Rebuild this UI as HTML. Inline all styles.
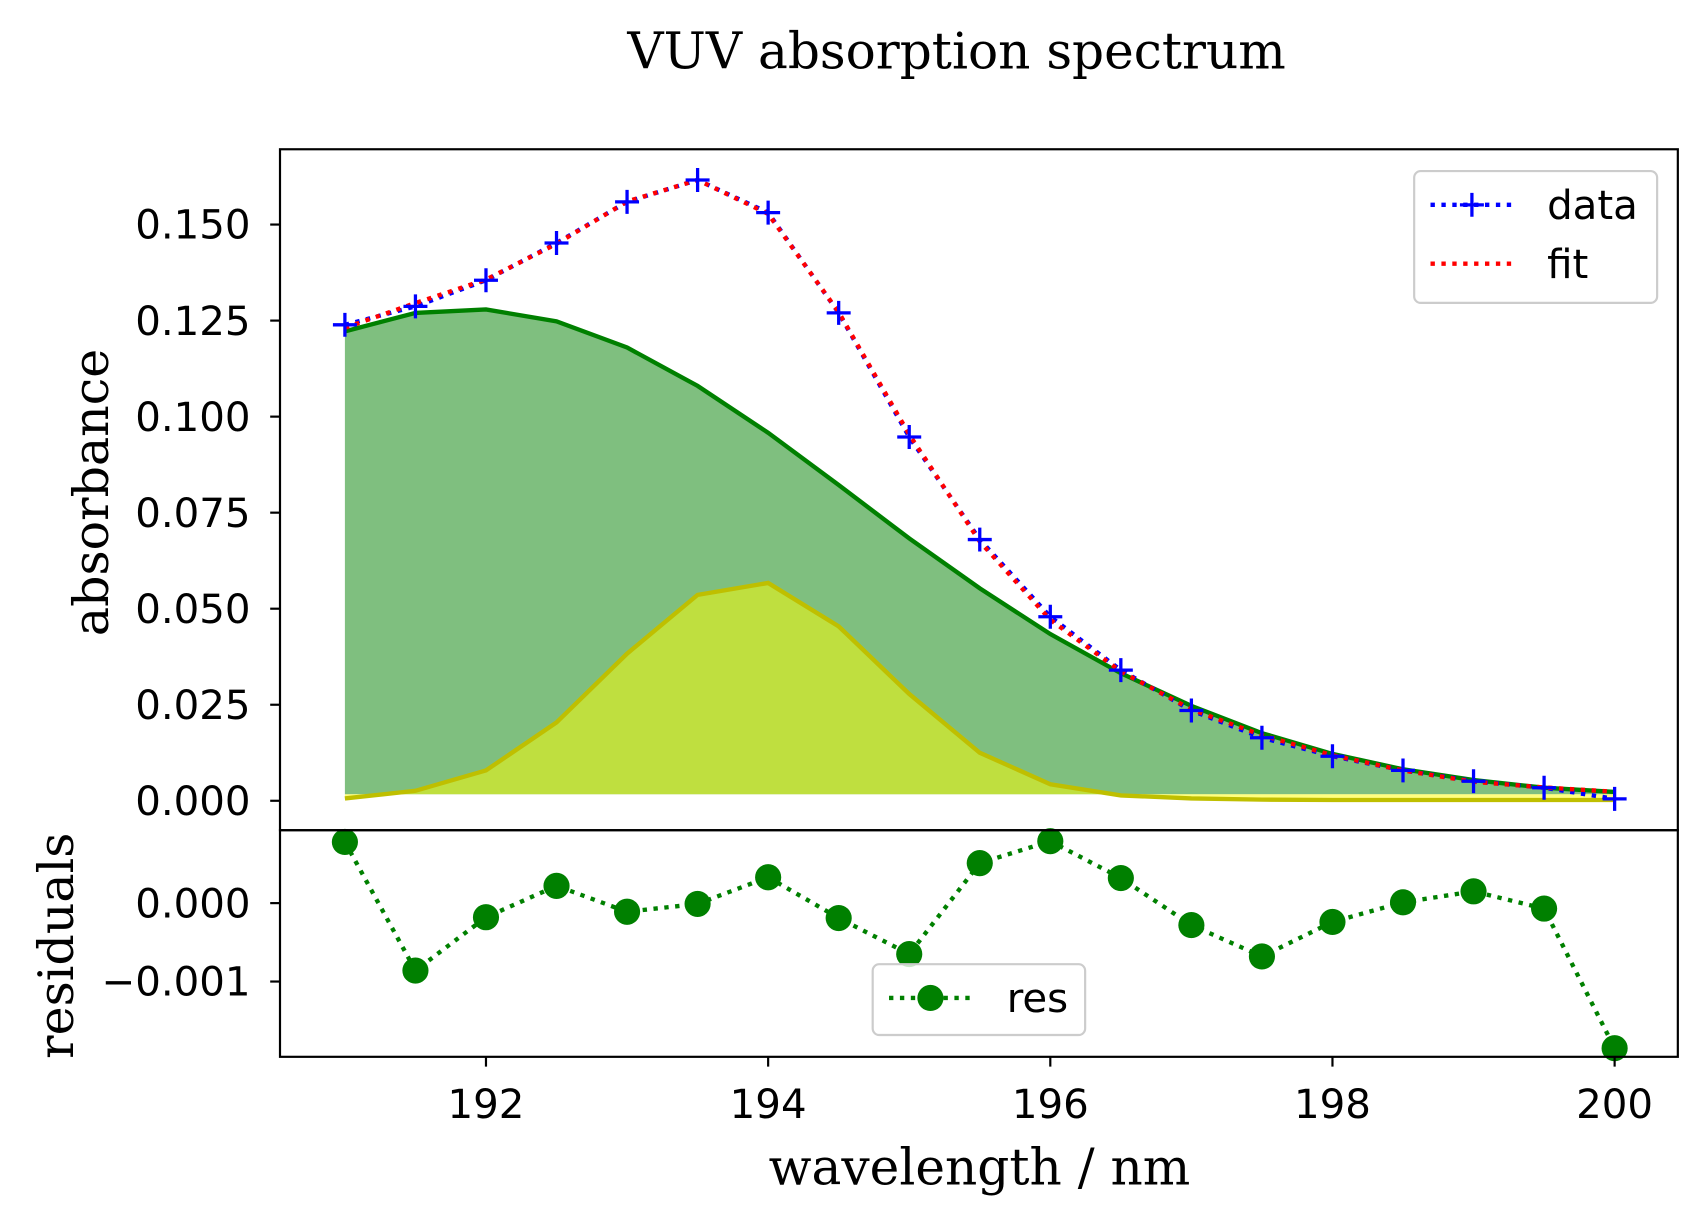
<!DOCTYPE html>
<html><head><meta charset="utf-8"><style>body{margin:0;background:#fff}svg{display:block}</style></head>
<body>
<svg id="c" width="1704" height="1221" xmlns="http://www.w3.org/2000/svg"><g id="root" transform="scale(1.0895)"></g></svg>
<script>
const wavelengths=[191,191.5,192,192.5,193,193.5,194,194.5,195,195.5,196,196.5,197,197.5,198,198.5,199,199.5,200];
const dataValues=[0.1239,0.1287,0.1355,0.1452,0.1559,0.1616,0.1531,0.1270,0.0947,0.0680,0.0479,0.0340,0.0235,0.0164,0.0116,0.0079,0.0051,0.0034,0.0005];
const residualValues=[0.00078,-0.00086,-0.00018,0.00022,-0.00011,-0.00001,0.00033,-0.00019,-0.00065,0.00051,0.00079,0.00032,-0.00028,-0.00068,-0.00024,0.00001,0.00015,-0.00007,-0.00185];
const comp1Values=[0.1222,0.1270,0.1279,0.1248,0.1180,0.1080,0.0958,0.0822,0.0683,0.0553,0.0434,0.0332,0.0247,0.0176,0.0122,0.0082,0.0054,0.0034,0.0023];
const comp2Values=[0.0006,0.0026,0.0079,0.0204,0.0383,0.0536,0.0567,0.0454,0.0278,0.0125,0.0043,0.0014,0.0006,0.0003,0.0002,0.0002,0.0002,0.0002,0.0002];
const xTicks=[192,194,196,198,200];
const yTicksTop=[0,0.025,0.05,0.075,0.1,0.125,0.15];
const yTicksBot=[-0.001,0];
const baseline=0.0017;

const svg=document.getElementById('root');
const NS='http://www.w3.org/2000/svg';
function mk(tag,attrs,parent){const e=document.createElementNS(NS,tag);for(const k in attrs)e.setAttribute(k,attrs[k]);(parent||svg).appendChild(e);return e;}
const L=257,R=1540,T1=137,B1=762,T2=762,B2=970;
const X=v=>L+(v-190.54)/(200.448-190.54)*(R-L);
const Y1=v=>B1-(v-(-0.00766))/(0.1696+0.00766)*(B1-T1);
const Y2=v=>B2-(v-(-0.00196))/(0.00093+0.00196)*(B2-T2);
const fitValues=dataValues.map((d,i)=>d-residualValues[i]);
const pts=(arr,yf)=>arr.map((v,i)=>X(wavelengths[i])+','+yf(v)).join(' ');
const font='"DejaVu Sans","Liberation Sans",sans-serif';
const serif='"DejaVu Serif","Liberation Serif",serif';
const TF=37;

let e;
e=mk('text',{x:878,y:63,'text-anchor':'middle','font-family':serif,'font-size':46});e.textContent='VUV absorption spectrum';


const x0=X(wavelengths[0]),xn=X(wavelengths[wavelengths.length-1]);
e=mk('polygon',{points:pts(comp1Values,Y1)+' '+xn+','+Y1(baseline)+' '+x0+','+Y1(baseline),fill:'#008000','fill-opacity':0.5});

e=mk('polygon',{points:pts(comp2Values,Y1)+' '+xn+','+Y1(baseline)+' '+x0+','+Y1(baseline),fill:'#ffff00','fill-opacity':0.5});

e=mk('polyline',{points:pts(comp1Values,Y1),fill:'none',stroke:'#008000','stroke-width':4});

e=mk('polyline',{points:pts(comp2Values,Y1),fill:'none',stroke:'#bfbf00','stroke-width':4});

e=mk('polyline',{points:pts(dataValues,Y1),fill:'none',stroke:'#0000ff','stroke-width':4,'stroke-dasharray':'4,6'});

e=mk('polyline',{points:pts(fitValues,Y1),fill:'none',stroke:'#ff0000','stroke-width':4,'stroke-dasharray':'4,6'});

dataValues.forEach((v,i)=>{const cx=X(wavelengths[i]),cy=Y1(v);
 const m=mk('path',{d:`M${cx-11},${cy}H${cx+11}M${cx},${cy-11}V${cy+11}`,stroke:'#0000ff','stroke-width':3});
 });

e=mk('polyline',{points:pts(residualValues,Y2),fill:'none',stroke:'#008000','stroke-width':4,'stroke-dasharray':'4,6'});

residualValues.forEach((v,i)=>{const c=mk('circle',{cx:X(wavelengths[i]),cy:Y2(v),r:12,fill:'#008000'});
 });

e=mk('rect',{x:L,y:T1,width:R-L,height:B1-T1,fill:'none',stroke:'#000','stroke-width':2});

e=mk('rect',{x:L,y:T2,width:R-L,height:B2-T2,fill:'none',stroke:'#000','stroke-width':2});


yTicksTop.forEach(v=>{const y=Y1(v);mk('line',{x1:L-9,x2:L,y1:y,y2:y,stroke:'#000','stroke-width':2});
 const t=mk('text',{x:L-27,y:y+13,'text-anchor':'end','font-family':font,'font-size':TF});t.textContent=v.toFixed(3);
 });
yTicksBot.forEach(v=>{const y=Y2(v);mk('line',{x1:L-9,x2:L,y1:y,y2:y,stroke:'#000','stroke-width':2});
 const t=mk('text',{x:L-27,y:y+13,'text-anchor':'end','font-family':font,'font-size':TF});t.textContent=(v<0?'\u2212':'')+Math.abs(v).toFixed(3);
 });
xTicks.forEach(v=>{const x=X(v);mk('line',{x1:x,x2:x,y1:B2,y2:B2+9,stroke:'#000','stroke-width':2});
 const t=mk('text',{x:x,y:B2+56,'text-anchor':'middle','font-family':font,'font-size':TF});t.textContent=v;
 });

e=mk('text',{x:0,y:0,transform:'translate(99,452) rotate(-90)','text-anchor':'middle','font-family':serif,'font-size':45});e.textContent='absorbance';

e=mk('text',{x:0,y:0,transform:'translate(67,868) rotate(-90)','text-anchor':'middle','font-family':serif,'font-size':45});e.textContent='residuals';

e=mk('text',{x:899,y:1087,'text-anchor':'middle','font-family':serif,'font-size':46});e.textContent='wavelength / nm';


const lg=mk('g',{});
mk('rect',{x:1298,y:157,width:223,height:121,rx:6,fill:'#fff','fill-opacity':0.8,stroke:'#ccc','stroke-width':2},lg);
mk('line',{x1:1313,x2:1389,y1:188,y2:188,stroke:'#0000ff','stroke-width':4,'stroke-dasharray':'4,6'},lg);
mk('path',{d:'M1340,188H1362M1351,177V199',stroke:'#0000ff','stroke-width':3},lg);
e=mk('text',{x:1420,y:201,'font-family':font,'font-size':TF},lg);e.textContent='data';

mk('line',{x1:1313,x2:1389,y1:242,y2:242,stroke:'#ff0000','stroke-width':4,'stroke-dasharray':'4,6'},lg);
e=mk('text',{x:1420,y:255,'font-family':font,'font-size':TF},lg);e.textContent='fit';

const lg2=mk('g',{});
mk('rect',{x:801,y:885,width:195,height:65,rx:6,fill:'#fff','fill-opacity':0.8,stroke:'#ccc','stroke-width':2},lg2);
mk('line',{x1:816,x2:892,y1:916,y2:916,stroke:'#008000','stroke-width':4,'stroke-dasharray':'4,6'},lg2);
mk('circle',{cx:854,cy:916,r:12,fill:'#008000'},lg2);
e=mk('text',{x:924,y:929,'font-family':font,'font-size':TF},lg2);e.textContent='res';

</script>
</body></html>
